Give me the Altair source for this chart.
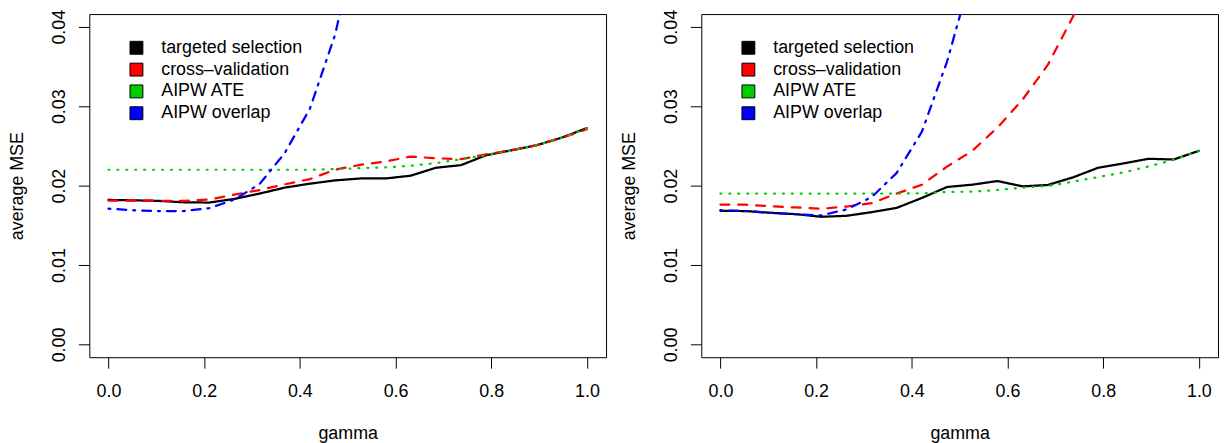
import altair as alt
import pandas as pd

gamma = [0.0, 0.0526, 0.1053, 0.1579, 0.2105, 0.2632, 0.3158, 0.3684, 0.4211, 0.4737,
         0.5263, 0.5789, 0.6316, 0.6842, 0.7368, 0.7895, 0.8421, 0.8947, 0.9474, 1.0]

series_names = ["targeted selection", "cross\u2013validation", "AIPW ATE", "AIPW overlap"]
series_colors = ["#000000", "#FF0000", "#00CD00", "#0000FF"]
series_dashes = [[1, 0], [9, 9], [1, 8], [2, 7, 9, 7]]

# left panel
ts_left = [0.0182, 0.01815, 0.01808, 0.0179, 0.01787, 0.01833, 0.0190, 0.01975, 0.02025, 0.02066,
           0.0209, 0.0209, 0.02125, 0.02225, 0.02258, 0.02383, 0.02445, 0.02508, 0.02604, 0.02725]
cv_left = [0.01812, 0.0181, 0.0181, 0.01808, 0.01825, 0.01887, 0.01945, 0.02016, 0.02083, 0.0220,
           0.02262, 0.02304, 0.02366, 0.02345, 0.02333, 0.02395, 0.02445, 0.0251, 0.0260, 0.0271]
ate_left = [0.0220, 0.0220, 0.0220, 0.0220, 0.0220, 0.0220, 0.0220, 0.0220, 0.0220, 0.02208,
            0.0222, 0.02229, 0.0225, 0.02283, 0.02333, 0.02383, 0.0244, 0.0251, 0.0260, 0.02725]
ovl_left = [0.0171, 0.0169, 0.0168, 0.0168, 0.01716, 0.01825, 0.0202, 0.0241, 0.0297, 0.0390,
            0.053, 0.070, 0.090, 0.113, 0.140, 0.170, 0.205, 0.245, 0.290, 0.340]

# right panel
ts_right = [0.01683, 0.0168, 0.01658, 0.01641, 0.01608, 0.0162, 0.01666, 0.0172, 0.01845, 0.01983,
            0.02012, 0.02058, 0.01991, 0.02008, 0.02104, 0.02225, 0.02279, 0.02338, 0.02329, 0.02438]
cv_right = [0.01762, 0.0176, 0.01741, 0.01725, 0.01708, 0.01737, 0.01779, 0.0190, 0.02012, 0.0224,
            0.02438, 0.0273, 0.03083, 0.0352, 0.04125, 0.0488, 0.058, 0.069, 0.082, 0.097]
ate_right = [0.0190, 0.0190, 0.0190, 0.0190, 0.0190, 0.0190, 0.0190, 0.0190, 0.01904, 0.0192,
             0.01925, 0.01945, 0.01975, 0.01995, 0.0205, 0.02108, 0.02166, 0.02241, 0.02325, 0.02438]
ovl_right = [0.01691, 0.0168, 0.01658, 0.0164, 0.01625, 0.0170, 0.01854, 0.0216, 0.02679, 0.03562,
             0.0469, 0.060, 0.076, 0.095, 0.117, 0.142, 0.170, 0.200, 0.235, 0.275]

x_ticks = [0.0, 0.2, 0.4, 0.6, 0.8, 1.0]
y_ticks = [0.0, 0.01, 0.02, 0.03, 0.04]

FONT = "Liberation Sans"


def make_df(cols):
    rows = []
    for name, vals in zip(series_names, cols):
        for g, v in zip(gamma, vals):
            rows.append({"gamma": g, "mse": v, "series": name})
    return pd.DataFrame(rows)


def panel(df):
    x = alt.X("gamma:Q", scale=alt.Scale(domain=[-0.04, 1.04], nice=False, zero=False),
              axis=alt.Axis(values=x_ticks, format=".1f", title="gamma", grid=False, domain=False,
                            tickSize=11, labelPadding=29, labelBaseline="alphabetic",
                            labelFlush=False, labelOverlap=False,
                            titleX=260.5, titleY=82, titleBaseline="alphabetic", titleAlign="center"))
    y = alt.Y("mse:Q", scale=alt.Scale(domain=[-0.0016, 0.0416], nice=False, zero=False),
              axis=alt.Axis(values=y_ticks, format=".2f", title="average MSE", grid=False, domain=False,
                            tickSize=11, labelPadding=14, labelAngle=270, labelAlign="center",
                            labelBaseline="alphabetic", labelFlush=False, labelOverlap=False,
                            titleAngle=270, titleX=-67, titleY=173, titleAlign="center",
                            titleBaseline="alphabetic"))
    layers = []
    for name, col, dash in zip(series_names, series_colors, series_dashes):
        layers.append(
            alt.Chart(df).transform_filter(alt.datum.series == name).mark_line(
                clip=True, strokeWidth=2.25, strokeCap="round", strokeJoin="round",
                color=col, strokeDash=dash
            ).encode(x=x, y=y, order=alt.Order("gamma:Q"))
        )
    # legend-only layer: its rows are all filtered out, the legend comes from the fill scale domain
    keys = alt.Chart(df).transform_filter(alt.datum.gamma > 5).mark_square(
        clip=True, size=169, filled=True
    ).encode(
        x=x, y=y,
        fill=alt.Fill("series:N", scale=alt.Scale(domain=series_names, range=series_colors),
                      legend=alt.Legend(title=None, orient="none", legendX=38.5, legendY=25,
                                        symbolType="square", symbolSize=169, symbolStrokeColor="black",
                                        symbolStrokeWidth=1, symbolOpacity=1, labelFontSize=18,
                                        labelFont=FONT, labelColor="black", rowPadding=4,
                                        labelOffset=16, padding=0)),
    )
    layers.append(keys)
    return alt.layer(*layers).properties(width=521, height=346)


left = panel(make_df([ts_left, cv_left, ate_left, ovl_left]))
right = panel(make_df([ts_right, cv_right, ate_right, ovl_right]))

chart = alt.hconcat(left, right, spacing=96, bounds="flush").resolve_scale(
    fill="independent"
).resolve_legend(fill="independent").properties(
    padding={"left": 0, "top": -1.7, "right": 0, "bottom": 0}
).configure(
    font=FONT, background="white"
).configure_view(
    stroke="black", strokeWidth=1
).configure_axis(
    labelFont=FONT, titleFont=FONT, labelFontSize=18, titleFontSize=18, titleFontWeight="normal",
    labelColor="black", titleColor="black", tickColor="black", tickWidth=1
)

chart.save("out.html", embed_options={"renderer": "svg", "actions": False})
